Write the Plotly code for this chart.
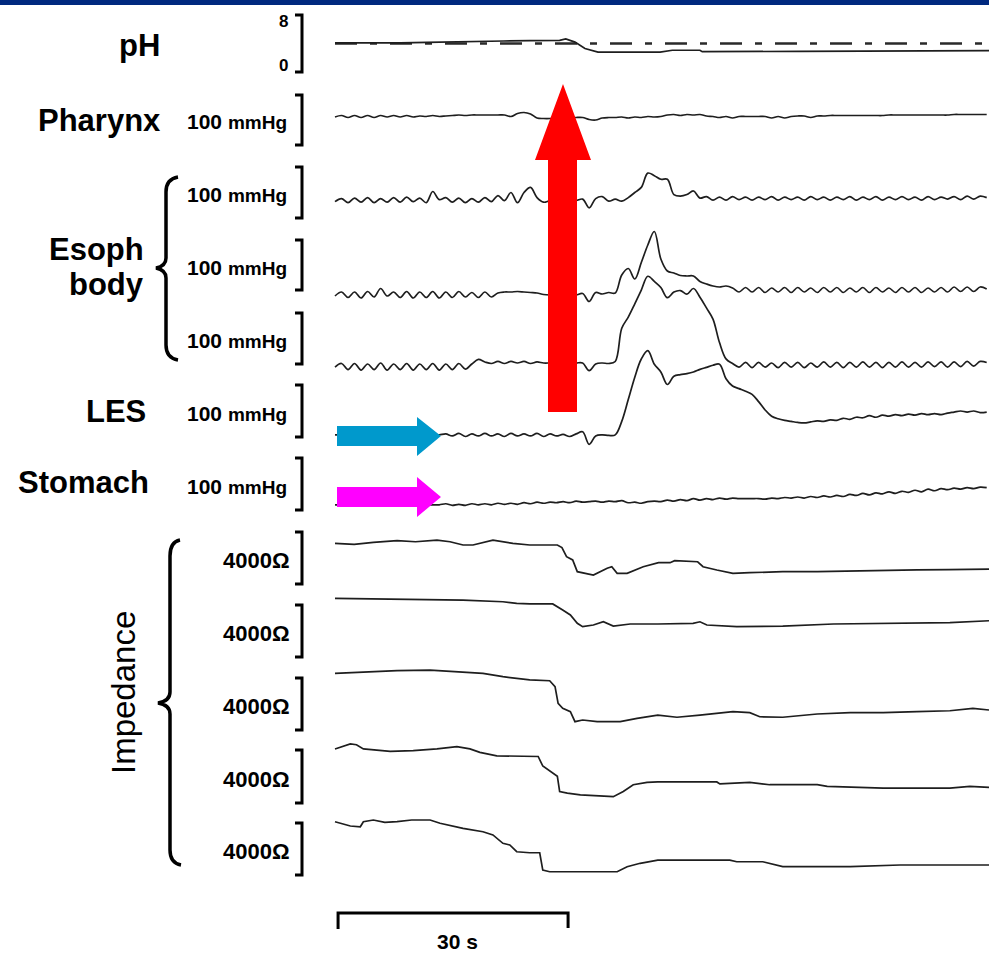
import plotly.graph_objects as go

W, H = 989, 953
PX_PER_S = 7.667      # horizontal scale of the recording (px per second)
T0_PX = 335           # where t = 0 sits
DT = 0.85             # sampling interval of the pressure channels (s)

ph_t = [0, 4, 8.5, 12, 17.6, 22, 25.4, 29.3, 30.1, 30.9, 31.3, 32.6, 34.3, 42.4, 44.0, 47.6, 47.9, 60.6, 75.0, 85.3]
ph_v = [4.1, 4.05, 4.1, 4.15, 4.3, 4.35, 4.4, 4.45, 4.65, 4.4, 4.2, 3.3, 2.8, 2.8, 3.05, 3.05, 2.85, 2.9, 2.95, 3.0]
ph_ref = 4.0

pharynx = [56, 59, 55, 59, 55, 59, 55, 59, 56, 59,
           56, 59, 56, 58, 57, 59, 57, 58, 59, 60,
           59, 60, 60, 60, 60, 60, 60, 57, 63, 65,
           62, 54, 53, 53, 54, 54, 54, 55, 55, 51,
           50, 54, 55, 55, 56, 54, 56, 55, 57, 56,
           57, 60, 61, 59, 61, 60, 61, 58, 57, 55,
           57, 54, 57, 57, 57, 57, 57, 54, 57, 54,
           57, 58, 58, 55, 58, 58, 59, 59, 59, 59,
           59, 59, 59, 59, 59, 60, 60, 60, 60, 60,
           60, 60, 60, 60, 60, 61, 61, 61, 61, 61,
           61]

esoph1 = [32, 38, 30, 39, 31, 40, 30, 38, 31, 40,
          31, 41, 32, 39, 30, 52, 36, 40, 31, 39,
          30, 38, 31, 40, 32, 44, 34, 50, 30, 50,
          60, 40, 31, 34, 34, 34, 34, 34, 37, 20,
          38, 42, 33, 37, 33, 40, 50, 60, 88, 83,
          76, 76, 46, 43, 46, 53, 39, 42, 35, 41,
          35, 42, 36, 41, 35, 41, 36, 42, 35, 41,
          36, 41, 35, 42, 36, 41, 35, 41, 36, 42,
          35, 41, 36, 42, 35, 41, 36, 42, 36, 41,
          35, 42, 36, 41, 37, 42, 36, 43, 37, 43,
          40]

esoph2 = [-12, -4, -15, -4, -16, -3, -14, 3, -12, -4,
          -15, -3, -16, -4, -15, -3, -16, -4, -15, -3,
          -14, -5, -15, -4, -14, -6, -4, -4, -3, -4,
          -5, -6, -9, -10, -10, -10, -10, -10, -7, -23,
          -5, -8, -5, -6, 30, 43, 22, 55, 90, 117,
          62, 38, 34, 29, 28, 28, 17, 12, 8, 6,
          8, 4, -4, 5, -4, 5, -5, 4, -4, 5,
          -5, 5, -4, 4, -5, 5, -4, 5, -5, 4,
          -4, 5, -5, 5, -4, 4, -5, 5, -4, 5,
          -5, 4, -4, 5, -4, 6, -3, 6, -3, 6,
          2]

esoph3 = [-6, 1, -11, 1, -12, 0, -11, 2, -12, 0,
          -11, 1, -12, 0, -11, 1, -12, 0, -11, 1,
          -10, 0, 9, 4, 1, 5, 1, 5, 2, 5,
          1, 4, 2, 2, 2, 2, 2, 2, 2, -13,
          0, 2, 1, 5, 70, 92, 118, 145, 172, 162,
          150, 130, 141, 144, 137, 148, 131, 110, 88, 42,
          10, 1, -6, 3, -7, 3, -6, 2, -7, 3,
          -6, 3, -7, 2, -6, 4, -6, 3, -7, 3,
          -6, 4, -6, 3, -7, 3, -6, 4, -6, 3,
          -6, 4, -5, 4, -6, 4, -5, 5, -4, 5,
          3]

les = [4, 4, 4, 4, 4, 4, 4, 4, 4, 4,
       4, 4, 4, 4, 4, 4, 4, 6, 2, 7,
       1, 6, 2, 7, 2, 6, 1, 7, 2, 6,
       2, 7, 1, 6, 2, 5, 1, 6, 10, -14,
       2, 4, 3, 4, 30, 72, 115, 150, 166, 140,
       125, 101, 117, 120, 122, 125, 130, 134, 138, 140,
       112, 98, 93, 88, 82, 68, 52, 40, 35, 32,
       30, 28, 27, 29, 31, 30, 33, 32, 36, 34,
       38, 37, 41, 38, 42, 40, 43, 41, 44, 42,
       45, 43, 45, 43, 46, 48, 50, 48, 50, 47,
       48]

stomach = [10, 10, 10, 10, 10, 10, 10, 10, 10, 10,
           10, 10, 10, 10, 10, 10, 10, 12, 9, 11,
           9, 12, 10, 12, 10, 13, 11, 13, 11, 14,
           12, 15, 13, 15, 14, 16, 14, 17, 15, 16,
           17, 15, 17, 16, 18, 14, 15, 13, 16, 17,
           16, 19, 17, 20, 18, 22, 19, 22, 20, 23,
           21, 23, 22, 22, 22, 22, 21, 23, 22, 24,
           23, 25, 23, 26, 24, 27, 25, 28, 26, 30,
           28, 32, 29, 33, 31, 35, 32, 36, 34, 38,
           35, 40, 37, 41, 39, 42, 40, 43, 41, 44,
           43]

imp1_t = [0, 2.5, 5, 8.1, 10.5, 13.3, 15, 16.7, 18.0, 20.6, 23.2, 25.4, 29.0, 29.6, 30.2, 31.0, 31.6, 33.7, 35.5, 36.1,
          36.8, 38.1, 40.2, 42.2, 43.7, 44.3, 47.3, 48.0, 49.8, 51.9, 54.1, 58.4, 62.9, 67.2, 71.5, 75.9, 80, 85.3]
imp1_v = [3130, 3050, 3200, 3330, 3250, 3380, 3250, 3000, 3000, 3380, 3130, 3000, 3000, 2800, 2100, 1850, 950, 690, 1210, 1330,
          820, 820, 1330, 1640, 1640, 1790, 1710, 1330, 1080, 820, 870, 950, 950, 1000, 1080, 1080, 1100, 1150]

imp2_t = [0, 8, 16.7, 21.9, 23.7, 25.4, 28.4, 29.7, 30.7, 31.6, 32.3, 33.7, 35.0, 36.3, 38.5, 42.1, 46.7, 47.6, 48.5, 52.4,
          58.4, 65.0, 71.5, 80.2, 85.3]
imp2_v = [4510, 4450, 4380, 4250, 4130, 4080, 4080, 3610, 3230, 2590, 2330, 2460, 2710, 2380, 2540, 2540, 2590, 2710, 2460, 2330,
          2380, 2540, 2590, 2640, 2790]

imp3_t = [0, 4, 8.1, 12.4, 16.7, 19.3, 21.9, 23.7, 25.4, 28.0, 28.7, 29.1, 29.7, 30.7, 31.3, 32.3, 34.2, 37.2, 39.4, 42.1,
          44.6, 47.6, 51.9, 54.1, 55.4, 58.4, 62.9, 67.2, 71.5, 75.9, 80.2, 83.2, 85.3]
imp3_v = [4360, 4480, 4560, 4610, 4480, 4360, 4100, 3980, 3850, 3790, 3330, 2050, 1670, 1410, 640, 770, 640, 640, 900, 1150,
          980, 1150, 1410, 1330, 1020, 980, 1230, 1330, 1330, 1410, 1480, 1670, 1540]

imp4_t = [0, 2.0, 2.8, 3.7, 7.2, 10.2, 13.3, 15.9, 17.6, 18.9, 21.1, 23.7, 26.5, 27.1, 28.0, 29.0, 29.3, 30.3, 32.0, 34.2,
          36.3, 37.6, 38.9, 40.7, 42.1, 49.8, 50.2, 54.1, 56.7, 62.9, 64.2, 71.5, 80.2, 82.8, 85.3]
imp4_v = [4080, 4460, 4400, 4080, 3900, 3950, 4080, 4250, 4080, 3820, 3560, 3510, 3510, 2790, 2410, 2020, 870, 750, 620, 540,
          480, 870, 1380, 1560, 1590, 1590, 1440, 1560, 1380, 1380, 1250, 1130, 1130, 1250, 1180]

imp5_t = [0, 2.0, 3.3, 3.7, 5.0, 6.5, 8.1, 10, 12.4, 13.7, 16.7, 19.3, 20.6, 21.9, 22.8, 23.7, 25.4, 26.7, 27.1, 28.0,
          32.3, 36.8, 38.1, 39.8, 42.1, 51.5, 52.4, 55.8, 58.4, 67.2, 73.7, 85.3]
imp5_v = [4100, 3770, 3710, 4100, 4230, 4050, 4100, 4230, 4230, 3980, 3590, 3330, 3080, 2440, 2310, 1790, 1710, 1710, 380, 250,
          250, 250, 640, 900, 1150, 1150, 1020, 1020, 640, 640, 770, 770]

scale_bar_s = 30

# ---------------- layout helpers ----------------
def fx(x):
    return x / W

def fy(y):
    return 1 - y / H

def P(x, y):
    return f"{fx(x):.5f},{fy(y):.5f}"

t_samples = [round(k * DT, 3) for k in range(len(esoph1))]

FONT = "Liberation Sans, Arial, Helvetica, sans-serif"
TRACE_COLOR = "#1e1e1e"

# channel definitions: bracket top / bottom pixel rows and the span the bracket represents
channels = [
    dict(t=ph_t, v=ph_v, top=15, bot=72, span=8, label="ph", smooth=False),
    dict(t=t_samples, v=pharynx, top=95, bot=145, span=100, label="100", smooth=True),
    dict(t=t_samples, v=esoph1, top=167, bot=218, span=100, label="100", smooth=True),
    dict(t=t_samples, v=esoph2, top=240, bot=290, span=100, label="100", smooth=True),
    dict(t=t_samples, v=esoph3, top=313, bot=364, span=100, label="100", smooth=True),
    dict(t=t_samples, v=les, top=385, bot=437, span=100, label="100", smooth=True),
    dict(t=t_samples, v=stomach, top=458, bot=510, span=100, label="100", smooth=True),
    dict(t=imp1_t, v=imp1_v, top=532, bot=584, span=4000, label="imp", smooth=False),
    dict(t=imp2_t, v=imp2_v, top=605, bot=657, span=4000, label="imp", smooth=False),
    dict(t=imp3_t, v=imp3_v, top=678, bot=730, span=4000, label="imp", smooth=False),
    dict(t=imp4_t, v=imp4_v, top=750, bot=803, span=4000, label="imp", smooth=False),
    dict(t=imp5_t, v=imp5_v, top=823, bot=875, span=4000, label="imp", smooth=False),
]

fig = go.Figure()
layout_axes = {}
shapes = []
annotations = []

for i, ch in enumerate(channels):
    axname = "yaxis" if i == 0 else f"yaxis{i+1}"
    yref = "y" if i == 0 else f"y{i+1}"
    s = (ch["bot"] - ch["top"]) / ch["span"]
    rng = [-(H - ch["bot"]) / s, ch["bot"] / s]
    ax = dict(range=rng, visible=False, fixedrange=True, showgrid=False, zeroline=False)
    if i > 0:
        ax["overlaying"] = "y"
    layout_axes[axname] = ax

    if i == 0:
        fig.add_trace(go.Scatter(x=[ph_t[0], ph_t[-1]], y=[ph_ref, ph_ref], yaxis=yref, mode="lines",
                                 line=dict(color="#2a2a2a", width=2.6, dash="22px,13px,7px,13px"),
                                 hoverinfo="skip", showlegend=False))
    line = dict(color=TRACE_COLOR, width=1.7)
    if ch["smooth"]:
        line.update(shape="spline", smoothing=1.0)
    fig.add_trace(go.Scatter(x=ch["t"], y=ch["v"], yaxis=yref, mode="lines", line=line,
                             hoverinfo="skip", showlegend=False))

    # scale bracket "]"
    shapes.append(dict(type="path", xref="paper", yref=yref, layer="above",
                       path=f"M {fx(295):.5f},{ch['span']} L {fx(302):.5f},{ch['span']} "
                            f"L {fx(302):.5f},0 L {fx(295):.5f},0",
                       line=dict(color="black", width=3)))

    cy = (ch["top"] + ch["bot"]) / 2
    if ch["label"] == "100":
        annotations.append(dict(x=fx(289), y=fy(cy + 2), xref="paper", yref="paper",
                                xanchor="right", yanchor="middle", showarrow=False,
                                text="<b>100 <span style='font-size:19px'>mmHg</span></b>",
                                font=dict(family=FONT, size=21, color="black")))
    elif ch["label"] == "imp":
        annotations.append(dict(x=fx(292), y=fy(cy + 2.5), xref="paper", yref="paper",
                                xanchor="right", yanchor="middle", showarrow=False,
                                text="<b>4000Ω</b>",
                                font=dict(family=FONT, size=22, color="black")))

# pH bracket numbers
annotations.append(dict(x=fx(283), y=fy(21), xref="paper", yref="paper", showarrow=False,
                        xanchor="center", yanchor="middle",
                        text="<b>8</b>", font=dict(family=FONT, size=17, color="black")))
annotations.append(dict(x=fx(283), y=fy(65), xref="paper", yref="paper", showarrow=False,
                        xanchor="center", yanchor="middle",
                        text="<b>0</b>", font=dict(family=FONT, size=17, color="black")))

# channel names
for txt, xr, cy in [("pH", 162, 46), ("Pharynx", 163, 121), ("Esoph", 146, 249), ("body", 146, 285),
                    ("LES", 148, 412), ("Stomach", 151, 482)]:
    annotations.append(dict(x=fx(xr), y=fy(cy), xref="paper", yref="paper", xanchor="right",
                            yanchor="middle", showarrow=False, text=f"<b>{txt}</b>",
                            font=dict(family=FONT, size=31, color="black")))
annotations.append(dict(x=fx(123), y=fy(693), xref="paper", yref="paper", xanchor="center",
                        yanchor="middle", showarrow=False, text="Impedance", textangle=-90,
                        font=dict(family=FONT, size=33, color="black")))
annotations.append(dict(x=fx(457), y=fy(941), xref="paper", yref="paper", xanchor="center",
                        yanchor="middle", showarrow=False, text="<b>30 s</b>",
                        font=dict(family=FONT, size=21, color="black")))

# braces
shapes.append(dict(type="path", xref="paper", yref="paper", layer="above",
                   path=(f"M {P(178,177)} Q {P(166,179)} {P(166,192)} L {P(166,258)} "
                         f"Q {P(166,266)} {P(156,268)} Q {P(166,270)} {P(166,278)} "
                         f"L {P(166,345)} Q {P(166,358)} {P(178,360)}"),
                   line=dict(color="black", width=3.5)))
shapes.append(dict(type="path", xref="paper", yref="paper", layer="above",
                   path=(f"M {P(180,540)} Q {P(170,542)} {P(170,556)} L {P(170,692)} "
                         f"Q {P(170,701)} {P(158,703)} Q {P(170,705)} {P(170,714)} "
                         f"L {P(170,850)} Q {P(170,863)} {P(181,865)}"),
                   line=dict(color="black", width=3.5)))

# arrows
shapes.append(dict(type="path", xref="paper", yref="paper", layer="above",
                   path=(f"M {P(548,412)} L {P(548,160)} L {P(535,160)} L {P(563,84)} "
                         f"L {P(591,160)} L {P(577,160)} L {P(577,412)} Z"),
                   fillcolor="#FF0000", line=dict(width=0)))
shapes.append(dict(type="path", xref="paper", yref="paper", layer="above",
                   path=(f"M {P(337,426)} L {P(417,426)} L {P(417,417)} L {P(441,436)} "
                         f"L {P(417,456)} L {P(417,446)} L {P(337,446)} Z"),
                   fillcolor="#0099CC", line=dict(width=0)))
shapes.append(dict(type="path", xref="paper", yref="paper", layer="above",
                   path=(f"M {P(337,487)} L {P(417,487)} L {P(417,477)} L {P(441,497)} "
                         f"L {P(417,517)} L {P(417,507)} L {P(337,507)} Z"),
                   fillcolor="#FF00FF", line=dict(width=0)))

# 30 s time scale bar (in time units)
sb0 = 0.4
shapes.append(dict(type="path", xref="x", yref="paper", layer="above",
                   path=(f"M {sb0},{fy(929):.5f} L {sb0},{fy(913):.5f} "
                         f"L {sb0 + scale_bar_s},{fy(913):.5f} L {sb0 + scale_bar_s},{fy(928):.5f}"),
                   line=dict(color="black", width=3)))

# top banner
shapes.append(dict(type="rect", xref="paper", yref="paper", x0=0, x1=1, y0=fy(5), y1=1,
                   fillcolor="#00297F", line=dict(width=0), layer="above"))

fig.update_layout(
    width=W, height=H, autosize=False,
    margin=dict(l=0, r=0, t=0, b=0, pad=0),
    paper_bgcolor="white", plot_bgcolor="white",
    showlegend=False,
    xaxis=dict(range=[-T0_PX / PX_PER_S, (W - T0_PX) / PX_PER_S], domain=[0, 1],
               visible=False, fixedrange=True, showgrid=False, zeroline=False),
    shapes=shapes, annotations=annotations,
    **layout_axes,
)

fig.write_html("out.html", config={"displayModeBar": False},
               post_script="document.body.style.margin='0';document.body.style.overflow='hidden';")
